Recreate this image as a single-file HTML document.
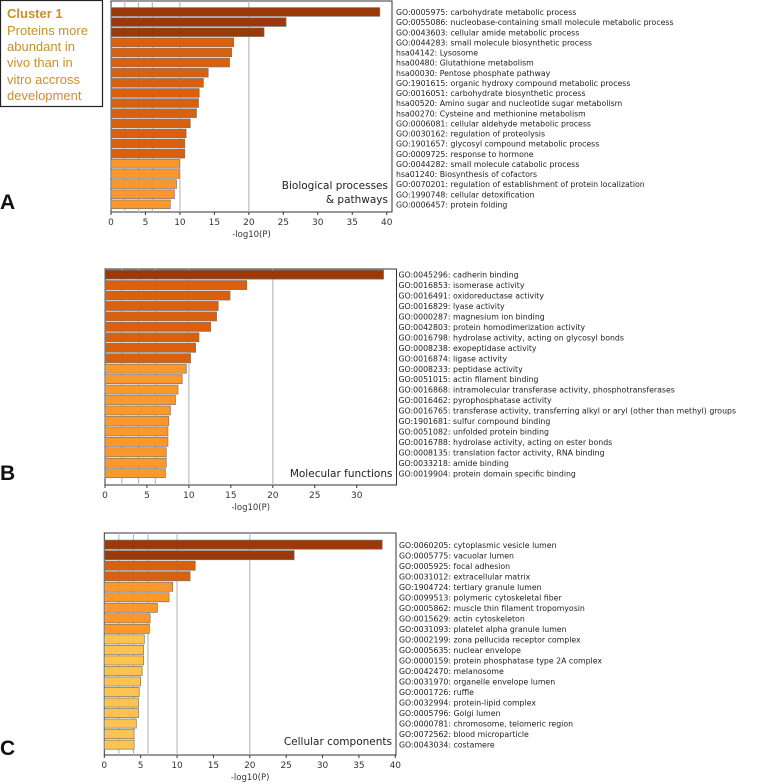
<!DOCTYPE html>
<html><head><meta charset="utf-8"><style>
html,body{margin:0;padding:0;background:#fff;}
svg{display:block;}
text{font-family:"DejaVu Sans",sans-serif;}
</style></head><body>
<svg id="s" width="777" height="783" xmlns="http://www.w3.org/2000/svg">
<g>
<rect x="0.5" y="0.5" width="102" height="106" fill="#fff" stroke="#222" stroke-width="1.2"/>
<text x="7" y="18" font-size="13" font-weight="bold" fill="#c8902a" style="font-family:'Liberation Sans',sans-serif">Cluster 1</text>
<text x="7" y="35" font-size="13" fill="#c8902a" style="font-family:'Liberation Sans',sans-serif">Proteins more</text>
<text x="7" y="51" font-size="13" fill="#c8902a" style="font-family:'Liberation Sans',sans-serif">abundant in</text>
<text x="7" y="67" font-size="13" fill="#c8902a" style="font-family:'Liberation Sans',sans-serif">vivo than in</text>
<text x="7" y="84" font-size="13" fill="#c8902a" style="font-family:'Liberation Sans',sans-serif">vitro accross</text>
<text x="7" y="100" font-size="13" fill="#c8902a" style="font-family:'Liberation Sans',sans-serif">development</text>
</g>
<text x="0" y="209" font-size="21" font-weight="bold" fill="#111" style="font-family:'Liberation Sans',sans-serif">A</text>
<text x="0" y="480" font-size="21" font-weight="bold" fill="#111" style="font-family:'Liberation Sans',sans-serif">B</text>
<text x="0" y="755" font-size="21" font-weight="bold" fill="#111" style="font-family:'Liberation Sans',sans-serif">C</text>
</svg>
<script>
const aLabels=["GO:0005975: carbohydrate metabolic process","GO:0055086: nucleobase-containing small molecule metabolic process","GO:0043603: cellular amide metabolic process","GO:0044283: small molecule biosynthetic process","hsa04142: Lysosome","hsa00480: Glutathione metabolism","hsa00030: Pentose phosphate pathway","GO:1901615: organic hydroxy compound metabolic process","GO:0016051: carbohydrate biosynthetic process","hsa00520: Amino sugar and nucleotide sugar metabolism","hsa00270: Cysteine and methionine metabolism","GO:0006081: cellular aldehyde metabolic process","GO:0030162: regulation of proteolysis","GO:1901657: glycosyl compound metabolic process","GO:0009725: response to hormone","GO:0044282: small molecule catabolic process","hsa01240: Biosynthesis of cofactors","GO:0070201: regulation of establishment of protein localization","GO:1990748: cellular detoxification","GO:0006457: protein folding"];
const aValues=[39,25.4,22.2,17.8,17.5,17.2,14.1,13.4,12.8,12.7,12.4,11.5,10.9,10.7,10.7,9.9,9.9,9.5,9.2,8.6];
const aColors=[0,0,0,1,1,1,1,1,1,1,1,1,1,1,1,2,2,2,2,2];
const aTicks=[0,5,10,15,20,25,30,35,40];
const bLabels=["GO:0045296: cadherin binding","GO:0016853: isomerase activity","GO:0016491: oxidoreductase activity","GO:0016829: lyase activity","GO:0000287: magnesium ion binding","GO:0042803: protein homodimerization activity","GO:0016798: hydrolase activity, acting on glycosyl bonds","GO:0008238: exopeptidase activity","GO:0016874: ligase activity","GO:0008233: peptidase activity","GO:0051015: actin filament binding","GO:0016868: intramolecular transferase activity, phosphotransferases","GO:0016462: pyrophosphatase activity","GO:0016765: transferase activity, transferring alkyl or aryl (other than methyl) groups","GO:1901681: sulfur compound binding","GO:0051082: unfolded protein binding","GO:0016788: hydrolase activity, acting on ester bonds","GO:0008135: translation factor activity, RNA binding","GO:0033218: amide binding","GO:0019904: protein domain specific binding"];
const bValues=[33.2,16.9,14.9,13.5,13.3,12.6,11.2,10.8,10.2,9.7,9.2,8.7,8.4,7.8,7.6,7.5,7.5,7.3,7.3,7.2];
const bColors=[0,1,1,1,1,1,1,1,1,2,2,2,2,2,2,2,2,2,2,2];
const bTicks=[0,5,10,15,20,25,30];
const cLabels=["GO:0060205: cytoplasmic vesicle lumen","GO:0005775: vacuolar lumen","GO:0005925: focal adhesion","GO:0031012: extracellular matrix","GO:1904724: tertiary granule lumen","GO:0099513: polymeric cytoskeletal fiber","GO:0005862: muscle thin filament tropomyosin","GO:0015629: actin cytoskeleton","GO:0031093: platelet alpha granule lumen","GO:0002199: zona pellucida receptor complex","GO:0005635: nuclear envelope","GO:0000159: protein phosphatase type 2A complex","GO:0042470: melanosome","GO:0031970: organelle envelope lumen","GO:0001726: ruffle","GO:0032994: protein-lipid complex","GO:0005796: Golgi lumen","GO:0000781: chromosome, telomeric region","GO:0072562: blood microparticle","GO:0043034: costamere"];
const cValues=[38.2,26.1,12.5,11.8,9.4,8.9,7.3,6.3,6.2,5.5,5.4,5.4,5.2,5.0,4.8,4.7,4.7,4.4,4.1,4.1];
const cColors=[0,0,1,1,2,2,2,2,2,3,3,3,3,3,3,3,3,3,3,3];
const cTicks=[0,5,10,15,20,25,30,35,40];
const gridVals=[2,4,6,10,20];
const palette=["#9b3a08","#d8600f","#fb982c","#fdc350"];
const NS="http://www.w3.org/2000/svg";
const svg=document.getElementById('s');
function mk(tag,attrs,parent){const e=document.createElementNS(NS,tag);for(const k in attrs)e.setAttribute(k,attrs[k]);(parent||svg).appendChild(e);return e;}
function panel(id,cfg,labels,values,colors,ticks,title){
  const g=mk('g',{});
  
  
  const xs=v=>cfg.x0+(v/cfg.xmax)*(cfg.x1-cfg.x0);
  mk('rect',{x:cfg.left,y:cfg.top,width:cfg.right-cfg.left,height:cfg.bottom-cfg.top,fill:'#fff',stroke:'#333','stroke-width':1},g);
  gridVals.forEach(v=>{
    const l=mk('line',{x1:xs(v),x2:xs(v),y1:cfg.top,y2:cfg.bottom,stroke:'#bbb','stroke-width':1.2},g);
    
    
  });
  const n=values.length;const pitch=(cfg.barBottom-cfg.barTop)/n;
  values.forEach((v,i)=>{
    const r=mk('rect',{x:xs(0),y:cfg.barTop+i*pitch+0.6,width:xs(v)-xs(0),height:pitch-1.4,fill:palette[colors[i]],stroke:'#777','stroke-width':0.7},g);
    
    
    const t=mk('text',{x:cfg.labelX,y:cfg.barTop+i*pitch+pitch/2+3,'font-size':7.8,fill:'#222'},g);
    t.textContent=labels[i];
    
    
  });
  ticks.forEach(v=>{
    mk('line',{x1:xs(v),x2:xs(v),y1:cfg.bottom,y2:cfg.bottom+3,stroke:'#333','stroke-width':1},g);
    const t=mk('text',{x:xs(v),y:cfg.bottom+13,'font-size':9,fill:'#333','text-anchor':'middle'},g);
    t.textContent=v;
    
    
  });
  const at=mk('text',{x:(cfg.left+cfg.right)/2,y:cfg.bottom+25,'font-size':8.5,fill:'#333','text-anchor':'middle'},g);
  at.textContent='-log10(P)';
  
  
  title.forEach((s,i)=>{
    const t=mk('text',{x:cfg.right-4,y:cfg.titleY+i*14,'font-size':10.5,fill:'#222','text-anchor':'end'},g);
    t.textContent=s;
    
    
  });
}
panel('biological-processes',{left:111,right:392,top:1,bottom:212,x0:111,x1:386.7,xmax:40,barTop:7,barBottom:209.5,labelX:396,titleY:189},aLabels,aValues,aColors,aTicks,["Biological processes","& pathways"]);
panel('molecular-functions',{left:105,right:396.5,top:269,bottom:485,x0:105,x1:356.7,xmax:30,barTop:269.5,barBottom:478.5,labelX:398.5,titleY:477},bLabels,bValues,bColors,bTicks,["Molecular functions"]);
panel('cellular-components',{left:104.3,right:396,top:533,bottom:755,x0:104.3,x1:395.3,xmax:40,barTop:539.5,barBottom:750,labelX:399,titleY:745},cLabels,cValues,cColors,cTicks,["Cellular components"]);
</script>
</body></html>
